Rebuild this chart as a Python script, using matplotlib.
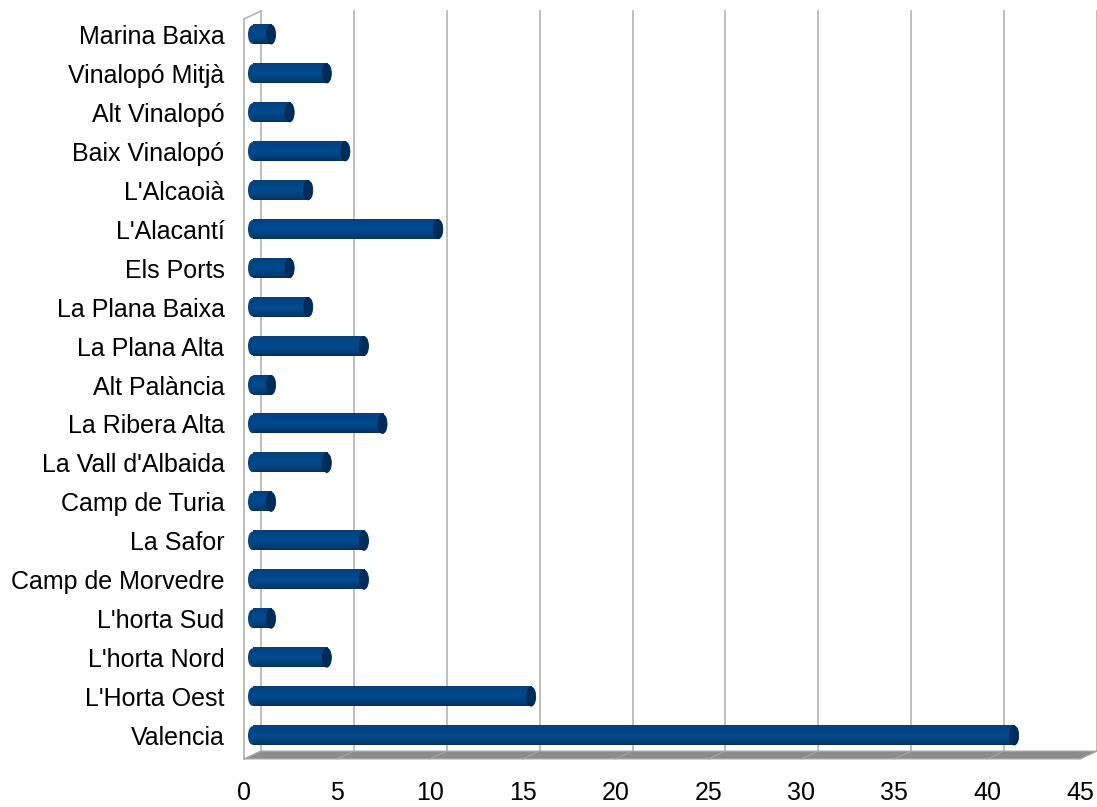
import numpy as np
import matplotlib
matplotlib.use('Agg')
import matplotlib.pyplot as plt
from matplotlib.patches import Ellipse, Polygon
from matplotlib.colors import LinearSegmentedColormap

plt.rcParams['font.family'] = ['Liberation Sans', 'DejaVu Sans']

# dades: comarques i valors
comarques = ['Marina Baixa', 'Vinalopó Mitjà', 'Alt Vinalopó', 'Baix Vinalopó',
             "L'Alcaoià", "L'Alacantí", 'Els Ports', 'La Plana Baixa',
             'La Plana Alta', 'Alt Palància', 'La Ribera Alta', "La Vall d'Albaida",
             'Camp de Turia', 'La Safor', 'Camp de Morvedre', "L'horta Sud",
             "L'horta Nord", "L'Horta Oest", 'Valencia']
valors = [1, 4, 2, 5, 3, 10, 2, 3, 6, 1, 7, 4, 1, 6, 6, 1, 4, 15, 41]
xticks = [0, 5, 10, 15, 20, 25, 30, 35, 40, 45]

W, H = 1097, 807
fig = plt.figure(figsize=(W / 100, H / 100), dpi=100)
# pla frontal en pixels: x 244..1080, y 19..759
ax = fig.add_axes([244 / W, (H - 759) / H, 836 / W, 740 / H])
xmax = 45
n = len(comarques)
ax.set_xlim(0, xmax)
ax.set_ylim(n - 0.5, -0.5)
for s in ax.spines.values():
    s.set_visible(False)

# profunditat 3D en unitats de dades
pxx = 836 / xmax
pxy = 740 / n
dx = 17 / pxx
dy = -8 / pxy

grid_col = '#b3b3b3'
# paret del fons: linies verticals
for t in xticks:
    ax.plot([t + dx, t + dx], [n - 0.5 + dy, -0.5 + dy], color=grid_col, lw=1.2,
            clip_on=False, zorder=1)
# paret esquerra
ax.plot([0, 0], [n - 0.5, -0.5], color=grid_col, lw=1.2, clip_on=False, zorder=1)
ax.plot([0, dx], [-0.5, -0.5 + dy], color=grid_col, lw=1.2, clip_on=False, zorder=1)

# terra
floor = Polygon([(0, n - 0.5), (xmax, n - 0.5), (xmax + dx, n - 0.5 + dy), (dx, n - 0.5 + dy)],
                closed=True, facecolor='#8c8c8c', edgecolor='#b0b0b0', lw=0.8,
                clip_on=False, zorder=1)
ax.add_patch(floor)
for t in xticks:
    ax.plot([t, t + dx], [n - 0.5, n - 0.5 + dy], color='#a6a6a6', lw=0.8,
            clip_on=False, zorder=1)

# barres cilindriques
cmap = LinearSegmentedColormap.from_list('cil', ['#123d6b', '#004688', '#004a8f', '#00427f', '#00335f'])
grad = np.linspace(0, 1, 64).reshape(-1, 1)
bh = 0.49
r = 4.5 / pxx
ox, oy = dx / 2, dy / 2
for i, v in enumerate(valors):
    yc = i + oy
    x0 = ox
    x1 = v + ox
    ax.add_patch(Ellipse((x0, yc), 2 * r, bh * 0.97, facecolor='#004585', edgecolor='none', zorder=3))
    ax.imshow(grad, cmap=cmap, extent=(x0, x1, yc + bh / 2, yc - bh / 2), aspect='auto',
              origin='upper', zorder=3, interpolation='bilinear')
    ax.add_patch(Ellipse((x1, yc), 2 * r, bh, facecolor='#002c58', edgecolor='#00234a',
                         lw=0.6, zorder=4))

ax.set_xlim(0, xmax)
ax.set_ylim(n - 0.5, -0.5)

ax.set_xticks(xticks)
ax.set_xticklabels([str(t) for t in xticks])
ax.set_yticks(np.arange(n) + oy)
ax.set_yticklabels(comarques)
ax.tick_params(axis='both', length=0, labelsize=18, colors='black')
ax.tick_params(axis='x', pad=16)
ax.tick_params(axis='y', pad=14)

fig.savefig('out.png', dpi=100)
